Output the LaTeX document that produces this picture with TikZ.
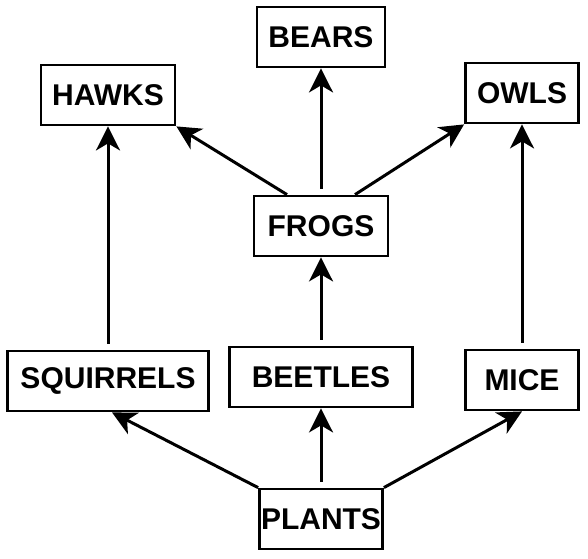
\documentclass[tikz,border=0pt]{standalone}
\usepackage{fontspec}
\setsansfont{Liberation Sans}
\usetikzlibrary{arrows.meta}

\begin{document}
\begin{tikzpicture}[x=0.5pt,y=-0.5pt,
    animal/.style={draw,line width=1.4pt,inner sep=0pt,minimum height=30pt,
      font=\sffamily\bfseries\fontsize{15}{18}\selectfont},
    eats/.style={-{Stealth[length=12pt,width=12pt,inset=3.5pt]},line width=1.5pt}]
    \useasboundingbox (0,0) rectangle (588,558);

    \node[animal,minimum width=64pt] (bears) at (321,37) {BEARS};
    \node[animal,minimum width=67pt] (hawks) at (108,95) {HAWKS};
    \node[animal,minimum width=56.5pt] (owls) at (522,93) {OWLS};
    \node[animal,minimum width=67pt] (frogs) at (321,226) {FROGS};
    \node[animal,minimum width=100.5pt] (squirrels) at (108,381) {SQUIRRELS};
    \node[animal,minimum width=91.5pt] (beetles) at (321,377) {BEETLES};
    \node[animal,minimum width=56.5pt] (mice) at (522,380) {MICE};
    \node[animal,minimum width=61.5pt] (plants) at (321,519) {PLANTS};

    \draw[eats,shorten <=3pt] (squirrels.north) to (hawks.south);
    \draw[eats,shorten <=3pt] (frogs.north) to (bears.south);
    \draw[eats] ([xshift=-17pt]frogs.north) to (hawks.south east);
    \draw[eats] ([xshift=17pt]frogs.north) to (owls.south west);
    \draw[eats,shorten <=3pt] (beetles.north) to (frogs.south);
    \draw[eats,shorten <=3pt] (mice.north) to (owls.south);
    \draw[eats] (plants.north west) to ([xshift=2pt]squirrels.south);
    \draw[eats,shorten <=3pt] (plants.north) to (beetles.south);
    \draw[eats] (plants.north east) to (mice.south);
  \end{tikzpicture}
\end{document}
